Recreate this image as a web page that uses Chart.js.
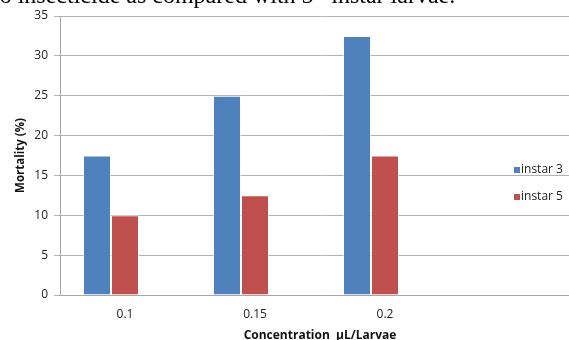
<!DOCTYPE html>
<html>
<head>
<meta charset="utf-8">
<script src="https://cdn.jsdelivr.net/npm/chart.js@4"></script>
<style>
  html, body { margin: 0; padding: 0; background: #fff; overflow: hidden; }
  #wrap { position: relative; width: 569px; height: 340px; overflow: hidden; }
  #caption { position: absolute; left: -7px; top: -17px; font: 24px "Liberation Serif", "Times New Roman", serif; line-height: 24px; color: #000; white-space: nowrap; }
  #caption sup { font-size: 15px; vertical-align: 10px; line-height: 0; }
  canvas { position: absolute; left: 0; top: 0; }
</style>
</head>
<body>
<div id="wrap">
  <canvas id="mortChart" width="580" height="340"></canvas>
  <div id="caption">to insecticide as compared with 5<sup>th</sup> instar larvae.</div>
</div>
<script>
const concentrations = ["0.1", "0.15", "0.2", ""];
const instar3 = [17.5, 25, 32.5];
const instar5 = [10, 12.5, 17.5];
const yTicks = [0, 5, 10, 15, 20, 25, 30, 35];

const textFont = '"Open Sans", "Liberation Sans", sans-serif';

// legend drawn inside the plot on the right, like the Excel original
const sideLegend = {
  id: "sideLegend",
  afterDraw(chart) {
    const ctx = chart.ctx;
    const items = chart.data.datasets.filter(d => d.label);
    ctx.save();
    ctx.font = "12px " + textFont;
    ctx.textBaseline = "middle";
    items.forEach((d, i) => {
      const y = 170 + i * 27;
      ctx.fillStyle = d.backgroundColor;
      ctx.fillRect(514, y - 3, 6, 6);
      ctx.fillStyle = "#222";
      ctx.fillText(d.label, 521, y);
    });
    ctx.restore();
  }
};

const ctx = document.getElementById("mortChart");
new Chart(ctx, {
  type: "bar",
  data: {
    labels: concentrations,
    datasets: [
      { label: "instar 3", data: instar3, backgroundColor: "#4F81BD", borderColor: "rgba(255,255,255,0.6)", borderWidth: 1 },
      { label: "instar 5", data: instar5, backgroundColor: "#C0504D", borderColor: "rgba(255,255,255,0.6)", borderWidth: 1 },
      { label: "", data: [], backgroundColor: "rgba(0,0,0,0)" }
    ]
  },
  options: {
    responsive: false,
    animation: false,
    layout: { padding: { top: 16, right: 0, left: 0, bottom: 0 } },
    plugins: {
      legend: { display: false },
      tooltip: { enabled: false }
    },
    datasets: {
      bar: { categoryPercentage: 0.646, barPercentage: 1.0 }
    },
    scales: {
      x: {
        grid: { display: false },
        border: { color: "#a6a6a6", width: 1 },
        ticks: { color: "#222", font: { size: 12, family: textFont }, padding: 4 },
        title: {
          display: true,
          text: "Concentration  μL/Larvae",
          color: "#111",
          font: { size: 12, weight: "bold", family: textFont },
          padding: { top: 6, bottom: -3 }
        },
        afterFit(scale) { scale.height = 45; }
      },
      y: {
        min: 0,
        max: 35,
        afterBuildTicks(scale) { scale.ticks = yTicks.map(v => ({ value: v })); },
        grid: { color: "#b3b3b3", tickLength: 6, lineWidth: 1 },
        border: { color: "#a6a6a6", width: 1 },
        ticks: { color: "#222", font: { size: 12, family: textFont }, padding: 6 },
        title: {
          display: true,
          text: "Mortality (%)",
          color: "#111",
          font: { size: 11.5, weight: "bold", family: textFont },
          padding: { top: 14, bottom: 4 }
        },
        afterFit(scale) { scale.width = 60; }
      }
    }
  },
  plugins: [sideLegend]
});
</script>
</body>
</html>
